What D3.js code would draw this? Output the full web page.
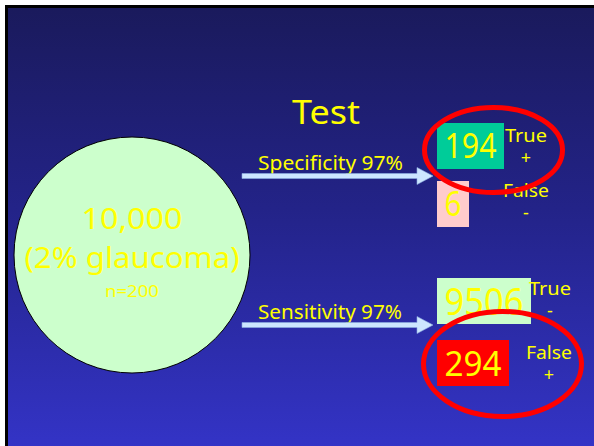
<!DOCTYPE html>
<html><head><meta charset="utf-8">
<script src="https://cdn.jsdelivr.net/npm/d3@7"></script>
<style>html,body{margin:0;padding:0;background:#fff;}svg{display:block;}</style>
</head><body>
<script>
// ---- data ----
const population = 10000;
const prevalencePct = 2;
const diseased = 200;
const testTitle = "Test";
const branchLabels = ["Specificity 97%", "Sensitivity 97%"];
const resultValues = [194, 6, 9506, 294];
const resultLabels = [["True", "+"], ["False", "-"], ["True", "-"], ["False", "+"]];
const resultColors = ["#00cc99", "#ffcccc", "#ccffcc", "#ff0000"];
const highlighted = [0, 3];

// ---- layout ----
const W = 594, H = 446;
const svg = d3.select("body").append("svg").attr("width", W).attr("height", H);
const font = "'Noto Sans',sans-serif";
const yellow = "#ffff00";

const defs = svg.append("defs");
const grad = defs.append("linearGradient").attr("id", "bg").attr("x1", 0).attr("y1", 0).attr("x2", 0).attr("y2", 1);
grad.append("stop").attr("offset", "0%").attr("stop-color", "#1a1a5c");
grad.append("stop").attr("offset", "45%").attr("stop-color", "#232388");
grad.append("stop").attr("offset", "100%").attr("stop-color", "#3434c8");

svg.append("rect").attr("x", 5).attr("y", 5).attr("width", W).attr("height", H).attr("fill", "#000");
svg.append("rect").attr("x", 8).attr("y", 8).attr("width", W).attr("height", H).attr("fill", "url(#bg)");

// text helper with fitted width
function txt(x, y, s, size, width, anchor) {
  const t = svg.append("text").attr("x", x).attr("y", y).text(s)
    .attr("font-family", font).attr("font-size", size).attr("fill", yellow)
    .attr("text-anchor", anchor || "start");
  if (width) t.attr("textLength", width).attr("lengthAdjust", "spacingAndGlyphs");
  return t;
}

// population circle (radius via sqrt scale)
const rScale = d3.scaleSqrt().domain([0, population]).range([0, 118]);
const cx = 132, cy = 255;
svg.append("circle").attr("cx", cx).attr("cy", cy).attr("r", rScale(population))
  .attr("fill", "#ccffcc").attr("stroke", "#000").attr("stroke-width", 1);
txt(cx, 229, d3.format(",")(population), 29, 101, "middle");
txt(cx, 268, `(${prevalencePct}% glaucoma)`, 29, 215, "middle");
txt(cx, 297, `n=${diseased}`, 16, 54, "middle");

// title
txt(292, 124, testTitle, 33, 68);

// branches
const branchY = d3.scalePoint().domain(d3.range(branchLabels.length)).range([176, 325]);
const arrowX0 = 242, arrowX1 = 433;
branchLabels.forEach((lab, i) => {
  const y = branchY(i);
  txt(258, y - 6, lab, 19, 145 - i);
  const p = d3.path();
  p.moveTo(arrowX0, y - 2.5); p.lineTo(arrowX1 - 16, y - 2.5); p.lineTo(arrowX1 - 16, y - 8.5);
  p.lineTo(arrowX1, y); p.lineTo(arrowX1 - 16, y + 8.5); p.lineTo(arrowX1 - 16, y + 2.5);
  p.lineTo(arrowX0, y + 2.5); p.closePath();
  svg.append("path").attr("d", p.toString()).attr("fill", "#cce6ff").attr("stroke", "#8fb0e0").attr("stroke-width", 0.6);
});

// results
const boxTop = [123, 181, 278, 340];
const boxH = 46;
const numSize = [34, 34, 38, 35];
const numWidth = [52, 17, 79, 57];
const labelX = [526, 526, 550, 549];
const labelY = [142, 197, 295, 359];
const boxX = 437;
const fmt = d3.format("d");

resultValues.forEach((v, i) => {
  const g = svg.append("g");
  const rect = g.append("rect").attr("x", boxX).attr("y", boxTop[i]).attr("height", boxH).attr("fill", resultColors[i]);
  const t = g.append("text").text(fmt(v)).attr("font-family", font).attr("font-size", numSize[i])
    .attr("fill", yellow).attr("text-anchor", "middle")
    .attr("textLength", numWidth[i]).attr("lengthAdjust", "spacingAndGlyphs");
  const bw = numWidth[i] + 15;
  rect.attr("width", bw);
  t.attr("x", boxX + bw / 2).attr("y", boxTop[i] + boxH / 2 + numSize[i] * 0.36);
  txt(labelX[i], labelY[i], resultLabels[i][0], 18, resultLabels[i][0] === "True" ? 42 : 46, "middle");
  txt(labelX[i], labelY[i] + 22, resultLabels[i][1], 18, null, "middle");
});

// highlight ellipses
const ellipse = [{cx: 493.5, cy: 150, rx: 69, ry: 42.5}, {cx: 502.5, cy: 364, rx: 79, ry: 52.5}];
highlighted.forEach((idx, k) => {
  const e = ellipse[k];
  svg.append("ellipse").attr("cx", e.cx).attr("cy", e.cy).attr("rx", e.rx).attr("ry", e.ry)
    .attr("fill", "none").attr("stroke", "#ff0000").attr("stroke-width", 5);
});
</script>
</body></html>
